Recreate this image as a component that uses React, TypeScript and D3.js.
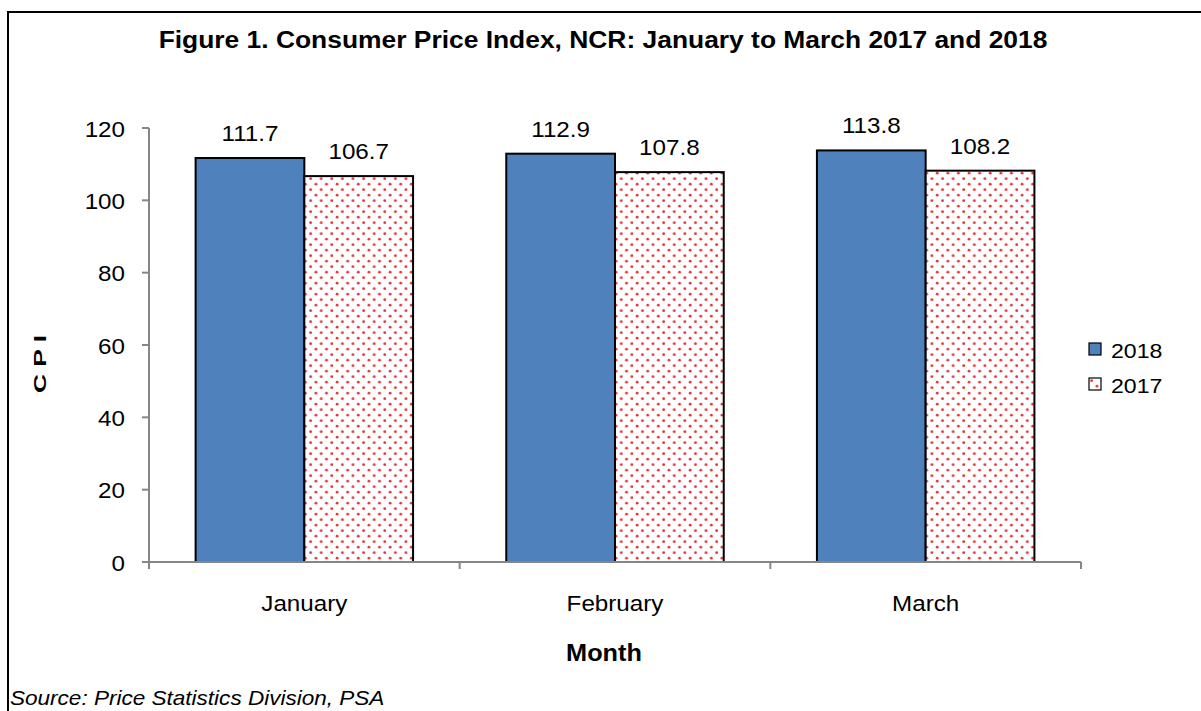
import { scaleBand, scaleLinear } from "d3";

const months = ["January", "February", "March"];
const seriesNames = ["2018", "2017"];
const cpi2018 = [111.7, 112.9, 113.8];
const cpi2017 = [106.7, 107.8, 108.2];
const yTicks = [0, 20, 40, 60, 80, 100, 120];

const font = "Arial, 'Liberation Sans', sans-serif";
const sx = 1.1;

function Label({ x, y, size, anchor = "middle", weight = "normal", italic = false, children }: any) {
  return (
    <g transform={`translate(${x},${y}) scale(${sx},1)`}>
      <text
        textAnchor={anchor}
        fontSize={size}
        fontWeight={weight}
        fontStyle={italic ? "italic" : "normal"}
        fontFamily={font}
        fill="#000"
      >
        {children}
      </text>
    </g>
  );
}

export default function App() {
  const width = 1201;
  const height = 711;
  const left = 149;
  const right = 1081;
  const top = 128;
  const bottom = 562;

  const x0 = scaleBand<string>().domain(months).range([left, right]);
  const bw = x0.bandwidth();
  const x1 = scaleBand<string>().domain(seriesNames).range([bw * 0.15, bw * 0.85]);
  const y = scaleLinear().domain([0, 120]).range([bottom, top]);

  const rows = months.map((m, i) => ({ month: m, values: [cpi2018[i], cpi2017[i]] }));
  const fills = ["#4f81bd", "url(#dots)"];

  return (
    <svg width={width} height={height} style={{ position: "absolute", left: 0, top: 0, background: "#fff" }}>
      <defs>
        <pattern id="dots" width={10.6} height={11} patternUnits="userSpaceOnUse">
          <rect width={10.6} height={11} fill="#fff" />
          <circle cx={2.6} cy={2.7} r={1.4} fill="#e63539" />
          <circle cx={7.9} cy={8.2} r={1.4} fill="#e63539" />
        </pattern>
      </defs>

      <rect x={8} y={12} width={1200} height={710} fill="none" stroke="#000" strokeWidth={2} />

      <Label x={603} y={48} size={24} weight="bold">
        Figure 1. Consumer Price Index, NCR: January to March 2017 and 2018
      </Label>

      {/* y axis */}
      <line x1={left} x2={left} y1={top} y2={bottom} stroke="#868686" strokeWidth={2} />
      {yTicks.map((t) => (
        <g key={t}>
          <line x1={left - 7} x2={left} y1={y(t)} y2={y(t)} stroke="#868686" strokeWidth={2} />
          <Label x={125} y={y(t) + 8.5} size={22} anchor="end">
            {t}
          </Label>
        </g>
      ))}

      {/* bars */}
      {rows.map((r) => (
        <g key={r.month} transform={`translate(${x0(r.month)},0)`}>
          {r.values.map((v, j) => {
            const bx = x1(seriesNames[j]) ?? 0;
            return (
              <g key={j}>
                <rect
                  x={bx}
                  y={y(v)}
                  width={x1.bandwidth()}
                  height={bottom - y(v)}
                  fill={fills[j]}
                  stroke="#000"
                  strokeWidth={2}
                />
                <Label x={bx + x1.bandwidth() / 2} y={y(v) - 17} size={22}>
                  {v.toFixed(1)}
                </Label>
              </g>
            );
          })}
          <Label x={bw / 2} y={611} size={22}>
            {r.month}
          </Label>
        </g>
      ))}

      {/* x axis */}
      <line x1={left} x2={right} y1={bottom} y2={bottom} stroke="#868686" strokeWidth={2} />
      {[...months.map((m) => x0(m) ?? 0), right].map((tx, i) => (
        <line key={i} x1={tx} x2={tx} y1={bottom} y2={bottom + 7} stroke="#868686" strokeWidth={2} />
      ))}

      <g transform="translate(46,364) rotate(-90) scale(1.65,1)">
        <text textAnchor="middle" fontSize={16} fontWeight="bold" fontFamily={font}>
          C P I
        </text>
      </g>

      <Label x={604} y={661} size={23} weight="bold">
        Month
      </Label>

      {/* legend */}
      {seriesNames.map((s, i) => (
        <g key={s} transform={`translate(1089,${343 + i * 35})`}>
          <rect x={0} y={0} width={12} height={12} fill={fills[i]} stroke="#000" strokeWidth={1.2} />
          <Label x={22} y={14.5} size={21} anchor="start">
            {s}
          </Label>
        </g>
      ))}

      <Label x={10} y={705} size={20.5} anchor="start" italic>
        Source: Price Statistics Division, PSA
      </Label>
    </svg>
  );
}
